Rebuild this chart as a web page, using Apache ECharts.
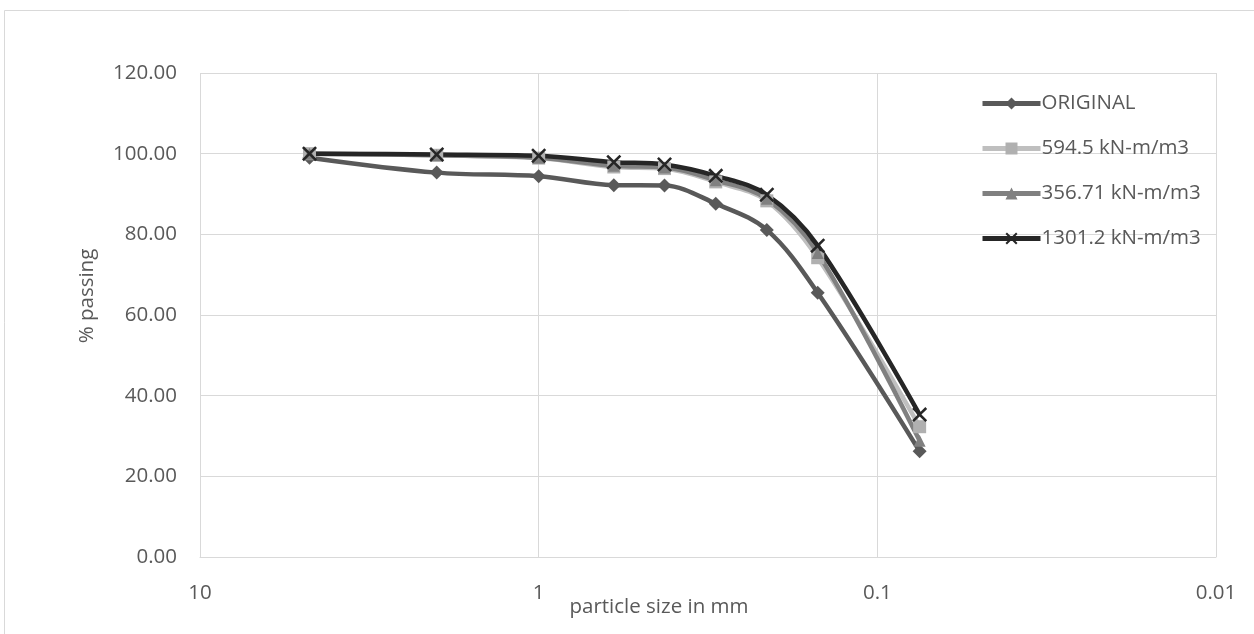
<!DOCTYPE html>
<html>
<head>
<meta charset="utf-8">
<script src="https://cdn.jsdelivr.net/npm/echarts@6/dist/echarts.min.js"></script>
<style>
  html, body { margin: 0; padding: 0; background: #ffffff; }
  #chart { width: 1254px; height: 634px; }
</style>
</head>
<body>
<div id="chart"></div>
<script>
// Sieve sizes (mm) and percent passing for each sample
const sizes = [4.75, 2.0, 1.0, 0.6, 0.425, 0.3, 0.212, 0.15, 0.075];
const original = [99.0, 95.3, 94.4, 92.2, 92.1, 87.6, 81.1, 65.5, 26.2];
const e594 = [100.0, 99.6, 98.9, 96.7, 96.3, 93.0, 88.3, 74.2, 32.3];
const e356 = [100.0, 99.6, 99.0, 97.0, 96.6, 93.4, 88.8, 75.4, 28.8];
const e1301 = [100.0, 99.8, 99.5, 97.9, 97.3, 94.5, 89.8, 77.2, 35.3];
const seriesNames = ['ORIGINAL', '594.5 kN-m/m3', '356.71 kN-m/m3', '1301.2 kN-m/m3'];
const yTicks = [0, 20, 40, 60, 80, 100, 120];

const FONT = 'Open Sans';
const FS = 20.5;
const TXT = '#595959';
const GRID = '#D9D9D9';
const crossPath = 'path://M0,1.2L1.2,0L5,3.8L8.8,0L10,1.2L6.2,5L10,8.8L8.8,10L5,6.2L1.2,10L0,8.8L3.8,5Z';

function pairs(vals) { return sizes.map((s, i) => [s, vals[i]]); }

function line(name, vals, color, symbol, size, symColor) {
  return {
    name: name,
    type: 'line',
    data: pairs(vals),
    smooth: 0.35,
    symbol: symbol,
    symbolSize: size,
    lineStyle: { color: color, width: 4.5 },
    itemStyle: { color: symColor || color },
    emphasis: { disabled: true },
    z: 2
  };
}

const chart = echarts.init(document.getElementById('chart'), null, { renderer: 'canvas' });
chart.setOption({
  animation: false,
  backgroundColor: '#ffffff',
  textStyle: { fontFamily: FONT, color: TXT },
  graphic: [{
    type: 'rect', left: 2, top: 8,
    shape: { width: 1250, height: 640 },
    style: { fill: 'none', stroke: GRID, lineWidth: 1 },
    silent: true
  }],
  grid: { left: 200, right: 38, top: 73, bottom: 77 },
  legend: {
    orient: 'vertical',
    left: 975, top: 88,
    itemGap: 24,
    itemWidth: 58, itemHeight: 15,
    lineStyle: { width: 5 },
    textStyle: { fontFamily: FONT, fontSize: FS, color: TXT, padding: [0, 0, 0, -4] },
    data: seriesNames
  },
  xAxis: {
    type: 'log', logBase: 10,
    min: 0.01, max: 10,
    inverse: true,
    name: 'particle size in mm',
    nameLocation: 'middle',
    nameGap: 40,
    nameMoveOverlap: false,
    nameTextStyle: { fontFamily: FONT, fontSize: FS, color: TXT, padding: [0, 98, 0, 0] },
    axisLine: { show: true, lineStyle: { color: GRID, width: 1 } },
    axisTick: { show: false },
    axisLabel: { fontFamily: FONT, fontSize: FS, color: TXT, margin: 26,
      formatter: v => String(+v.toPrecision(3)) },
    splitLine: { show: true, lineStyle: { color: GRID, width: 1 } },
    minorTick: { show: false },
    minorSplitLine: { show: false }
  },
  yAxis: {
    type: 'value',
    min: yTicks[0], max: yTicks[yTicks.length - 1], interval: 20,
    name: '% passing',
    nameLocation: 'middle',
    nameGap: 102,
    nameRotate: 90,
    nameMoveOverlap: false,
    nameTextStyle: { fontFamily: FONT, fontSize: FS, color: TXT, padding: [0, 0, 0, 38] },
    axisLine: { show: false },
    axisTick: { show: false },
    axisLabel: { fontFamily: FONT, fontSize: FS, color: TXT, margin: 23,
      formatter: v => v.toFixed(2) },
    splitLine: { show: true, lineStyle: { color: GRID, width: 1 } }
  },
  series: [
    line(seriesNames[0], original, '#595959', 'diamond', 14),
    line(seriesNames[1], e594, '#BFBFBF', 'rect', 13, '#B0B0B0'),
    line(seriesNames[2], e356, '#808080', 'triangle', 12),
    line(seriesNames[3], e1301, '#262626', crossPath, 15)
  ]
});
</script>
</body>
</html>
